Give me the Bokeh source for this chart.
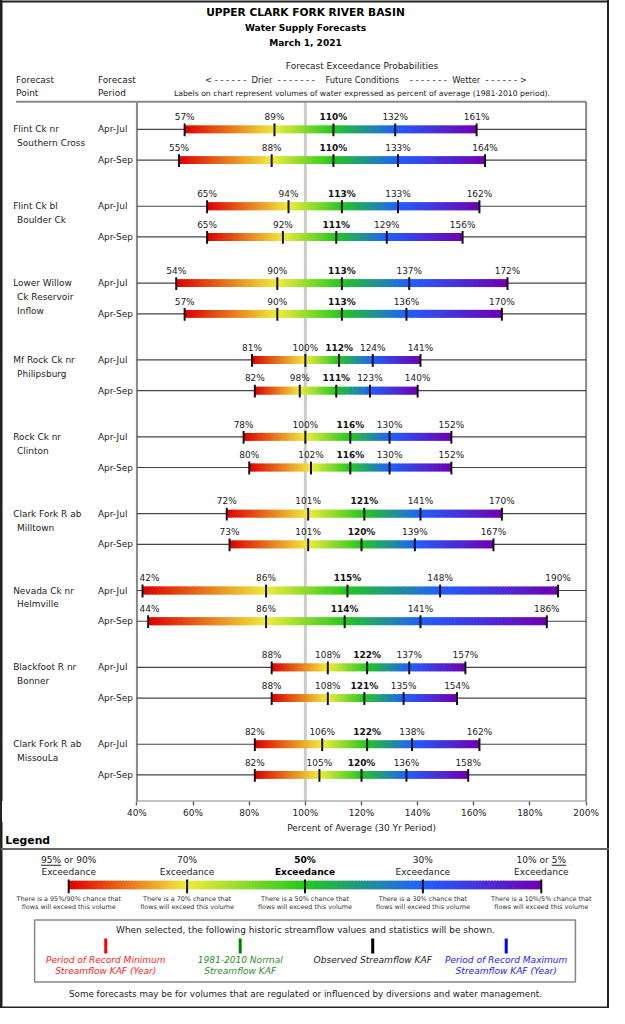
from bokeh.plotting import figure
from bokeh.layouts import column
from bokeh.models import Range1d, FixedTicker, PrintfTickFormatter, ColumnDataSource
from bokeh.core.properties import value
from bokeh.embed import file_html
from bokeh.resources import INLINE

# ---------------- data ----------------
forecast_points = [
    ["Flint Ck nr", "Southern Cross"],
    ["Flint Ck bl", "Boulder Ck"],
    ["Lower Willow", "Ck Reservoir", "Inflow"],
    ["Mf Rock Ck nr", "Philipsburg"],
    ["Rock Ck nr", "Clinton"],
    ["Clark Fork R ab", "Milltown"],
    ["Nevada Ck nr", "Helmville"],
    ["Blackfoot R nr", "Bonner"],
    ["Clark Fork R ab", "MissouLa"],
]
periods = ["Apr-Jul", "Apr-Sep"]
p90 = [57, 55, 65, 65, 54, 57, 81, 82, 78, 80, 72, 73, 42, 44, 88, 88, 82, 82]
p70 = [89, 88, 94, 92, 90, 90, 100, 98, 100, 102, 101, 101, 86, 86, 108, 108, 106, 105]
p50 = [110, 110, 113, 111, 113, 113, 112, 111, 116, 116, 121, 120, 115, 114, 122, 121, 122, 120]
p30 = [132, 133, 133, 129, 137, 136, 124, 123, 130, 130, 141, 139, 148, 141, 137, 135, 138, 136]
p10 = [161, 164, 162, 156, 172, 170, 141, 140, 152, 152, 170, 167, 190, 186, 157, 154, 162, 158]
x_ticks = [40, 60, 80, 100, 120, 140, 160, 180, 200]
legend_heads = [("95% or 90%", "Exceedance"), ("70%", "Exceedance"), ("50%", "Exceedance"),
                ("30%", "Exceedance"), ("10% or 5%", "Exceedance")]
legend_captions = ["There is a 95%/90% chance that", "There is a 70% chance that",
                   "There is a 50% chance that", "There is a 30% chance that",
                   "There is a 10%/5% chance that"]
hist_labels = [(["Period of Record Minimum", "Streamflow KAF (Year)"], "#ff0000", "#ff1a1a"),
               (["1981-2010 Normal", "Streamflow KAF"], "#008000", "#2e8b2e"),
               (["Observed Streamflow KAF"], "#000000", "#222222"),
               (["Period of Record Maximum", "Streamflow KAF (Year)"], "#0000ff", "#1a1aff")]

# ---------------- layout helpers ----------------
FONT = "DejaVu Sans"
W, H = 609, 1008
SX, SY = W / 625, H / 1024


def fs(r):
    return f"{r * SX:.2f}px"


def px2pct(r):
    return 40 + (r - 140) * 160 / 461


def txt(fig, xs, ys, texts, size, align="center", style="normal", color="#222222"):
    fig.text(x=xs, y=ys, text=texts, text_font=value(FONT), text_font_size=fs(size),
             text_align=align, text_baseline="middle", text_font_style=style, text_color=color)


STOP_COLORS = [(221, 0, 0), (240, 236, 60), (34, 200, 30), (32, 96, 255), (112, 0, 176)]
NSUB = 40


def gradient(vals_list, ycs, half):
    L, R, T, B, C = [], [], [], [], []
    for vals, yc in zip(vals_list, ycs):
        for i in range(4):
            a, b = vals[i], vals[i + 1]
            c0, c1 = STOP_COLORS[i], STOP_COLORS[i + 1]
            for j in range(NSUB):
                tm = (j + 0.5) / NSUB
                last = (i == 3 and j == NSUB - 1)
                L.append(a + (b - a) * j / NSUB)
                R.append(a + (b - a) * ((j + 1) if last else (j + 1.7)) / NSUB)
                col = tuple(int(round(c0[k] + (c1[k] - c0[k]) * tm)) for k in range(3))
                C.append("#%02x%02x%02x" % col)
                T.append(yc - half)
                B.append(yc + half)
    return ColumnDataSource(dict(left=L, right=R, top=T, bottom=B, color=C))


def style_fig(f):
    f.grid.visible = False
    f.outline_line_color = None
    f.background_fill_color = None
    f.border_fill_color = None


# ---------------- main figure ----------------
FRAME_H = round(814 * SY)
AXIS_PX = 20
p = figure(frame_width=W, frame_height=FRAME_H, x_range=Range1d(px2pct(0), px2pct(625)),
           y_range=Range1d(814, 0), y_axis_location=None, output_backend="svg",
           toolbar_location=None, min_border=0, min_border_bottom=AXIS_PX)
style_fig(p)
ax = p.xaxis[0]
ax.ticker = FixedTicker(ticks=x_ticks)
ax.formatter = PrintfTickFormatter(format="%d%%")
ax.axis_line_color = None
ax.major_tick_line_color = "#666666"
ax.major_tick_line_width = 1.5
ax.major_tick_out = 4
ax.major_tick_in = 0
ax.minor_tick_line_color = None
ax.major_label_standoff = 2
ax.major_label_text_font = FONT
ax.major_label_text_font_size = fs(9.2)
ax.major_label_text_color = "#222222"

# page border (main part)
p.segment(x0=[px2pct(0), px2pct(625), px2pct(0)], y0=[0, 0, 0],
          x1=[px2pct(0), px2pct(625), px2pct(625)], y1=[814, 814, 0],
          line_color="#222222", line_width=4)

# header
txt(p, [px2pct(313)], [12], ["UPPER CLARK FORK RIVER BASIN"], 10.9, style="bold", color="#000000")
txt(p, [px2pct(313), px2pct(313)], [28, 43], ["Water Supply Forecasts", "March 1, 2021"], 9.3,
    style="bold", color="#000000")
txt(p, [px2pct(371)], [67], ["Forecast Exceedance Probabilities"], 9.2)
txt(p, [px2pct(16), px2pct(16), px2pct(100), px2pct(100)], [81, 94, 81, 94],
    ["Forecast", "Point", "Forecast", "Period"], 9.2, align="left")
nb = "\u00a0"
d6 = nb.join(["-"] * 6)
d7 = nb.join(["-"] * 7)
drier = ("<" + nb + d6 + nb * 2 + "Drier" + nb * 2 + d7 + nb * 4 + "Future Conditions" + nb * 4
         + d7 + nb * 2 + "Wetter" + nb * 2 + d6 + nb + ">")
txt(p, [px2pct(375)], [81], [drier], 8.6)
txt(p, [px2pct(371)], [95], ["Labels on chart represent volumes of water expressed as percent of average (1981-2010 period)."], 7.9)

# frame lines
p.segment(x0=[100], y0=[103], x1=[100], y1=[814], line_color="#cccccc", line_width=3)
p.segment(x0=[px2pct(16), 40, 200, 40], y0=[103, 103, 103, 814],
          x1=[200, 40, 200, 200], y1=[103, 814, 814, 814], line_color="#888888", line_width=2)

# rows
ROW0, GROUP, SUB = 131, 78.1, 31.2
row_y = []
for g in range(len(forecast_points)):
    for k in range(len(periods)):
        row_y.append(ROW0 + g * GROUP + k * SUB)
n = len(row_y)
p.segment(x0=[40] * n, y0=row_y, x1=[200] * n, y1=row_y, line_color="#444444", line_width=1.2)

vals = [[p90[i], p70[i], p50[i], p30[i], p10[i]] for i in range(n)]
src = gradient(vals, row_y, 4)
p.quad(left="left", right="right", top="top", bottom="bottom", fill_color="color",
       line_color=None, source=src)

tx, ty0, ty1 = [], [], []
lx, ly, lt = [], [], []
bx, by, bt = [], [], []
for v, y in zip(vals, row_y):
    for i, val in enumerate(v):
        tx.append(val); ty0.append(y - 6); ty1.append(y + 7)
        xlab = max(val, 44.5)
        if i == 2:
            bx.append(xlab); by.append(y - 12.5); bt.append(f"{val}%")
        else:
            lx.append(xlab); ly.append(y - 12.5); lt.append(f"{val}%")
p.segment(x0=tx, y0=ty0, x1=tx, y1=ty1, line_color="#111111", line_width=2)
txt(p, lx, ly, lt, 9.2)
txt(p, bx, by, bt, 9.2, style="bold", color="#111111")

# left labels
nx, ny, nt = [], [], []
for g, names in enumerate(forecast_points):
    y0 = ROW0 + g * GROUP
    for j, name in enumerate(names):
        nx.append(px2pct(13 if j == 0 else 17))
        ny.append(y0 + j * 14.2)
        nt.append(name)
txt(p, nx, ny, nt, 9.2, align="left")
txt(p, [px2pct(100)] * n, row_y, [periods[i % 2] for i in range(n)], 9.2, align="left")

# ---------------- legend figure ----------------
LEG_H = H - FRAME_H - AXIS_PX
Y0 = 1024 - LEG_H / SY
q = figure(width=W, height=LEG_H, x_range=Range1d(0, 625), y_range=Range1d(1024, Y0),
           x_axis_location=None, y_axis_location=None, output_backend="svg",
           toolbar_location=None, min_border=0)
style_fig(q)

# page border (legend part)
q.segment(x0=[0, 625, 0], y0=[Y0, Y0, 1024], x1=[0, 625, 625], y1=[1024, 1024, 1024],
          line_color="#222222", line_width=4)

txt(q, [370.5], [841], ["Percent of Average (30 Yr Period)"], 9.2)
txt(q, [5], [853], ["Legend"], 11.1, align="left", style="bold", color="#000000")
q.segment(x0=[0], y0=[862], x1=[625], y1=[862], line_color="#666666", line_width=2)

leg_x = [70, 191.5, 312.5, 433.5, 555]
head1 = [h[0] for h in legend_heads]
head2 = [h[1] for h in legend_heads]
txt(q, leg_x[:2] + leg_x[3:], [873] * 4, head1[:2] + head1[3:], 9.3)
txt(q, leg_x[:2] + leg_x[3:], [885.5] * 4, head2[:2] + head2[3:], 9.3)
txt(q, [leg_x[2]], [873], [head1[2]], 9.3, style="bold", color="#000000")
txt(q, [leg_x[2]], [885.5], [head2[2]], 9.3, style="bold", color="#000000")
# underline of 95% and 5%
f_ref = 9.3
w1 = 6.103 * f_ref
w5 = 5.467 * f_ref
q.segment(x0=[leg_x[0] - w1 / 2, leg_x[4] + w5 / 2 - 1.586 * f_ref],
          y0=[878.5, 878.5],
          x1=[leg_x[0] - w1 / 2 + 2.222 * f_ref, leg_x[4] + w5 / 2], y1=[878.5, 878.5],
          line_color="#222222", line_width=1)

lsrc = gradient([leg_x], [898.5], 4.3)
q.quad(left="left", right="right", top="top", bottom="bottom", fill_color="color",
       line_color=None, source=lsrc)
q.segment(x0=leg_x, y0=[893] * 5, x1=leg_x, y1=[907] * 5, line_color="#111111", line_width=2)
txt(q, leg_x, [912.7] * 5, legend_captions, 6.6, color="#333333")
txt(q, leg_x, [920.7] * 5, ["flows will exceed this volume"] * 5, 6.6, color="#333333")

# historic values box
q.quad(left=[35], right=[590], top=[934], bottom=[997], fill_color=None,
       line_color="#888888", line_width=1.5)
txt(q, [313], [944], ["When selected, the following historic streamflow values and statistics will be shown."], 9.2)
hx = [108, 246, 382, 519]
q.segment(x0=hx, y0=[953] * 4, x1=hx, y1=[968] * 4,
          line_color=[h[1] for h in hist_labels], line_width=3)
for x, (lines, _, tc) in zip(hx, hist_labels):
    txt(q, [x] * len(lines), [975 + 11 * j for j in range(len(lines))], lines, 9.3,
        style="italic", color=tc)
txt(q, [313], [1009], ["Some forecasts may be for volumes that are regulated or influenced by diversions and water management."], 9.0)

layout = column(p, q, spacing=0,
                styles={"background-color": "white",
                        "box-shadow": "inset 2px 0 0 #222222, inset -2px 0 0 #222222"})
open("out.html", "w").write(file_html(layout, INLINE))
